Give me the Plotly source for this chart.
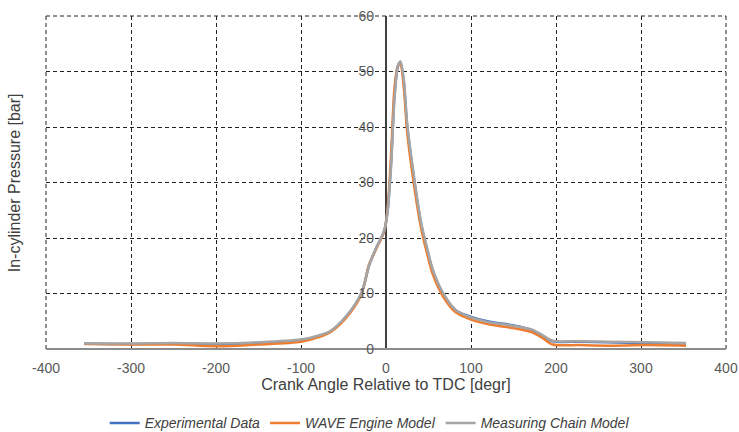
import plotly.graph_objects as go

angle = [-355, -300, -250, -200, -150, -100, -80, -66, -47, -29, -20, -12, -2, 2, 6, 10, 14, 17, 21, 25,
         33, 41, 49, 55, 67, 82, 100, 122, 149, 172, 184, 196, 227, 260, 306, 353]

experimental = [1.0, 0.9, 1.0, 0.9, 1.1, 1.6, 2.3, 3.1, 5.8, 10.0, 15.0, 18.0, 21.3, 25.0, 33.6, 45.8, 51.0, 51.7, 48.0, 40.0,
                30.6, 22.7, 17.5, 14.2, 10.0, 7.0, 5.8, 4.9, 4.3, 3.4, 2.4, 1.4, 1.3, 1.2, 1.1, 1.0]

wave_model = [0.9, 0.8, 0.8, 0.5, 0.8, 1.3, 2.1, 3.0, 5.6, 9.8, 15.2, 17.9, 21.3, 25.5, 35.0, 47.0, 51.0, 51.2, 47.0, 39.0,
              29.5, 22.0, 16.8, 13.5, 9.5, 6.6, 5.3, 4.4, 3.8, 3.0, 2.0, 0.8, 0.7, 0.6, 0.7, 0.6]

chain_model = [1.0, 1.0, 1.1, 1.0, 1.2, 1.7, 2.4, 3.2, 5.9, 10.1, 15.0, 18.1, 21.4, 25.0, 33.0, 45.0, 51.0, 51.8, 48.5, 40.5,
               31.0, 23.0, 17.8, 14.3, 10.1, 7.0, 5.7, 4.8, 4.2, 3.5, 2.5, 1.5, 1.4, 1.3, 1.2, 1.1]

x_ticks = [-400, -300, -200, -100, 0, 100, 200, 300, 400]
y_ticks = [0, 10, 20, 30, 40, 50, 60]

series = [
    ("Experimental Data", experimental, "#4472C4"),
    ("WAVE Engine Model", wave_model, "#ED7D31"),
    ("Measuring Chain Model", chain_model, "#A5A5A5"),
]

fig = go.Figure()
for name, vals, col in series:
    fig.add_trace(go.Scatter(x=angle, y=vals, mode="lines", name=name,
                             line=dict(color=col, width=2.5, shape="spline", smoothing=0.8)))

grid_col = "#222222"
dash = "4px,3px"
font_family = "Liberation Sans, Arial, sans-serif"
fig.update_layout(
    width=739, height=432,
    margin=dict(l=46, r=13, t=16, b=83, autoexpand=False),
    paper_bgcolor="white", plot_bgcolor="white",
    font=dict(family=font_family, size=14, color="#595959"),
    showlegend=True,
    legend=dict(orientation="h", x=0.476, xanchor="center", y=-0.175, yanchor="top",
                font=dict(size=14, color="#404040", style="italic"),
                itemwidth=30, tracegroupgap=0),
    xaxis=dict(range=[-400, 400], tickvals=x_ticks, ticktext=[str(v) for v in x_ticks],
               showgrid=True, gridcolor=grid_col, gridwidth=1, griddash=dash,
               zeroline=True, zerolinecolor="#404040", zerolinewidth=1.5,
               showline=False, ticks="", tickfont=dict(size=14, color="#595959"),
               ticklabelstandoff=9,
               title=dict(text="Crank Angle Relative to TDC [degr]", font=dict(size=16, color="#404040"), standoff=2)),
    yaxis=dict(range=[0, 60], tickvals=y_ticks, ticktext=[str(v) for v in y_ticks],
               anchor="free", position=0.5,
               showgrid=True, gridcolor=grid_col, gridwidth=1, griddash=dash,
               zeroline=True, zerolinecolor="#8c8c8c", zerolinewidth=2,
               showline=False, ticks="", tickfont=dict(size=14, color="#595959"),
               ticklabelstandoff=12),
    shapes=[
        dict(type="line", xref="paper", yref="paper", x0=0, x1=0, y0=0, y1=1,
             line=dict(color=grid_col, width=1, dash=dash), layer="below"),
        dict(type="line", xref="paper", yref="paper", x0=1, x1=1, y0=0, y1=1,
             line=dict(color=grid_col, width=1, dash=dash), layer="below"),
        dict(type="line", xref="paper", yref="paper", x0=0, x1=1, y0=1, y1=1,
             line=dict(color=grid_col, width=1, dash=dash), layer="below"),
    ],
    annotations=[dict(text="In-cylinder Pressure [bar]", xref="paper", yref="paper",
                      x=-0.046, y=0.5, xanchor="center", yanchor="middle", textangle=-90,
                      showarrow=False, font=dict(size=16, color="#404040"))],
)

fig.write_html("out.html", config={"displayModeBar": False},
               post_script="document.body.style.margin='0';document.body.style.padding='0';")
